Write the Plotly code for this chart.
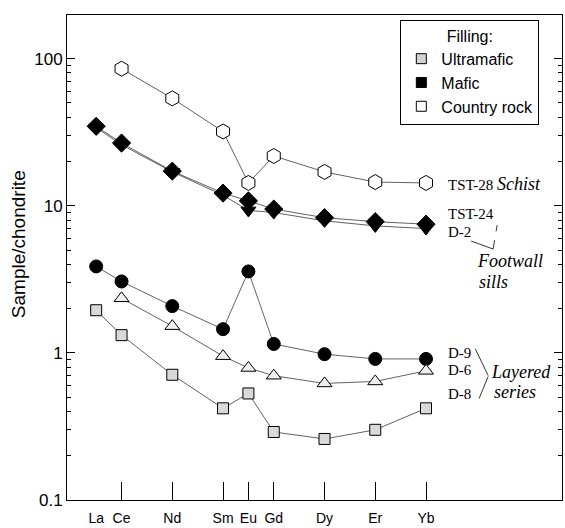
import plotly.graph_objects as go

# Rare-earth elements (chondrite-normalised) and their atomic numbers
elements = ["La", "Ce", "Nd", "Sm", "Eu", "Gd", "Dy", "Er", "Yb"]
atomic_no = [57, 58, 60, 62, 63, 64, 66, 68, 70]

tst28 = [None, 85.5, 53.7, 32.0, 14.3, 21.8, 17.0, 14.5, 14.3]   # schist (country rock)
tst24 = [34.7, 26.7, 17.2, 12.2, 10.8, 9.5, 8.3, 7.8, 7.5]        # footwall sill
d2 = [34.0, 26.0, 17.0, 11.8, 9.3, 9.0, 7.9, 7.3, 7.0]            # footwall sill
d9 = [3.87, 3.06, 2.08, 1.45, 3.58, 1.15, 0.98, 0.91, 0.91]       # layered series
d6 = [None, 2.35, 1.52, 0.95, 0.79, 0.70, 0.62, 0.64, 0.755]      # layered series
d8 = [1.95, 1.32, 0.71, 0.42, 0.53, 0.29, 0.26, 0.30, 0.42]       # layered series

tick_elements = elements[1:]
tick_positions = atomic_no[1:]

LINE = dict(color="#3a3a3a", width=0.8)
SANS = "Liberation Sans, Arial, sans-serif"
SERIF = "Liberation Serif, Times New Roman, serif"

fig = go.Figure()


def add_series(y, symbol, fill, size):
    fig.add_trace(go.Scatter(
        x=atomic_no, y=y, mode="lines+markers", showlegend=False,
        connectgaps=False, line=LINE,
        marker=dict(symbol=symbol, size=size, color=fill,
                    line=dict(color="black", width=1)),
    ))


add_series(tst28, "hexagon", "white", 15)
add_series(d2, "triangle-down", "black", 13)
add_series(tst24, "diamond", "black", 14)
add_series(d9, "circle", "black", 13)
add_series(d6, "triangle-up", "#f0f0f0", 13)
add_series(d8, "square", "#d9d9d9", 11)

# Legend entries for the filling types
for name, fill in [("Ultramafic", "#d4d4d4"), ("Mafic", "black"), ("Country rock", "white")]:
    fig.add_trace(go.Scatter(
        x=[None], y=[None], mode="markers", name=name,
        marker=dict(symbol="square", size=10, color=fill,
                    line=dict(color="black", width=1)),
    ))

# Overlay axis carrying the inside tick marks (no mark at La)
fig.add_trace(go.Scatter(x=[None], y=[None], xaxis="x2", showlegend=False,
                         hoverinfo="skip"))

xrange = [55.85, 75.36]
fig.update_layout(
    width=565, height=528,
    margin=dict(l=67, r=2, t=15, b=26),
    paper_bgcolor="white", plot_bgcolor="white",
    font=dict(family=SANS, color="black", size=15),
    xaxis=dict(
        range=xrange, tickvals=atomic_no, ticktext=elements,
        ticks="", showgrid=False, zeroline=False,
        showline=True, linecolor="black", linewidth=1, mirror=True,
        tickfont=dict(family=SANS, size=14), ticklabelstandoff=5,
    ),
    xaxis2=dict(
        range=xrange, overlaying="x", anchor="y", side="bottom",
        tickvals=tick_positions, ticks="inside", ticklen=18, tickwidth=1,
        tickcolor="black", showticklabels=False, showgrid=False,
        zeroline=False, showline=False,
    ),
    yaxis=dict(
        type="log", range=[-1, 2.297],
        tickvals=[0.1, 1, 10, 100], ticktext=["0.1", "1", "10", "100"],
        ticks="inside", ticklen=8, tickwidth=1, tickcolor="black",
        minor=dict(ticks="inside", ticklen=4, tickwidth=1, tickcolor="black",
                   dtick="D1", showgrid=False),
        showgrid=False, zeroline=False,
        showline=True, linecolor="black", linewidth=1, mirror="ticks",
        tickfont=dict(family=SANS, size=17),
    ),
    legend=dict(
        x=(401 - 67) / 496, y=(502 - 20) / 487, xanchor="left", yanchor="top",
        bgcolor="white", bordercolor="black", borderwidth=1,
        font=dict(family=SANS, size=16), itemwidth=30,
        title=dict(text="Filling:", side="top center",
                   font=dict(family=SANS, size=16)),
    ),
)


def px(xp):
    return (xp - 67) / 496


def py(yp):
    return (502 - yp) / 487


def ital(text):
    return f"<i><span style='font-size:18px'>{text}</span></i>"


labels = [
    ("TST-28 " + ital("Schist"), 447, 185),
    ("TST-24", 447, 215),
    ("D-2", 447, 233),
    (ital("Footwall"), 476, 262),
    (ital("sills"), 478, 283),
    ("D-9", 447, 354),
    ("D-6", 447, 371),
    ("D-8", 447, 396),
    (ital("Layered"), 490, 373),
    (ital("series"), 493, 394),
]
for text, xp, yp in labels:
    fig.add_annotation(text=text, xref="paper", yref="paper", x=px(xp), y=py(yp),
                       xanchor="left", yanchor="middle", showarrow=False,
                       font=dict(family=SERIF, size=15, color="black"))

# Y-axis title
fig.add_annotation(text="Sample/chondrite", xref="paper", yref="paper",
                   x=px(18), y=py(245), textangle=-90, showarrow=False,
                   xanchor="center", yanchor="middle",
                   font=dict(family=SANS, size=19, color="black"))

# Group brackets
bracket = dict(color="black", width=0.8)
fig.add_shape(type="line", xref="paper", yref="paper",
              x0=px(472), y0=py(242), x1=px(494), y1=py(250), line=bracket)
fig.add_shape(type="line", xref="paper", yref="paper",
              x0=px(494), y0=py(250), x1=px(498), y1=py(226),
              line=dict(color="black", width=0.8, dash="dash"))
fig.add_shape(type="line", xref="paper", yref="paper",
              x0=px(476), y0=py(350), x1=px(489), y1=py(377), line=bracket)
fig.add_shape(type="line", xref="paper", yref="paper",
              x0=px(480), y0=py(400), x1=px(489), y1=py(378), line=bracket)

fig.write_html("out.html")
